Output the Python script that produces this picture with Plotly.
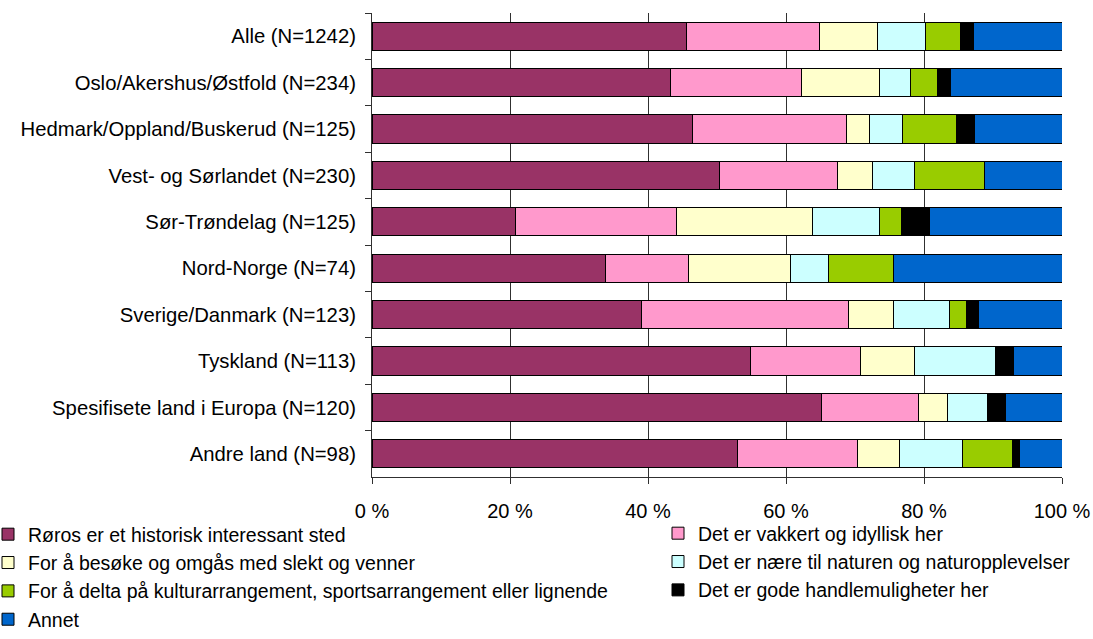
import plotly.graph_objects as go

categories = [
    "Alle (N=1242)",
    "Oslo/Akershus/Østfold (N=234)",
    "Hedmark/Oppland/Buskerud (N=125)",
    "Vest- og Sørlandet (N=230)",
    "Sør-Trøndelag (N=125)",
    "Nord-Norge (N=74)",
    "Sverige/Danmark (N=123)",
    "Tyskland (N=113)",
    "Spesifisete land i Europa (N=120)",
    "Andre land (N=98)",
]

series_names = [
    "Røros er et historisk interessant sted",
    "Det er vakkert og idyllisk her",
    "For å besøke og omgås med slekt og venner",
    "Det er nære til naturen og naturopplevelser",
    "For å delta på kulturarrangement, sportsarrangement eller lignende",
    "Det er gode handlemuligheter her",
    "Annet",
]

historisk = [45.6, 43.2, 46.4, 50.4, 20.8, 33.9, 39.1, 54.9, 65.1, 53.0]
vakkert = [19.3, 19.1, 22.4, 17.1, 23.3, 11.9, 30.0, 15.9, 14.1, 17.4]
slekt = [8.4, 11.2, 3.3, 5.1, 19.8, 14.9, 6.5, 7.8, 4.2, 6.1]
natur = [6.9, 4.6, 4.8, 6.0, 9.7, 5.4, 8.1, 11.7, 5.8, 9.1]
kultur = [5.1, 3.9, 7.8, 10.1, 3.2, 9.5, 2.5, 0.0, 0.0, 7.2]
handel = [1.9, 1.8, 2.6, 0.0, 4.0, 0.0, 1.7, 2.6, 2.6, 1.1]
annet = [12.8, 16.2, 12.7, 11.3, 19.2, 24.4, 12.1, 7.1, 8.2, 6.1]

series_values = [historisk, vakkert, slekt, natur, kultur, handel, annet]
colors = ["#993366", "#FF99CC", "#FFFFCC", "#CCFFFF", "#99CC00", "#000000", "#0066CC"]
# legend column for each series (two-column legend as in the reference)
legend_column = ["legend", "legend2", "legend", "legend2", "legend", "legend2", "legend"]

x_ticks = [0, 20, 40, 60, 80, 100]
x_tick_labels = ["0 %", "20 %", "40 %", "60 %", "80 %", "100 %"]

fig = go.Figure()
for i, (name, vals, col, lg) in enumerate(zip(series_names, series_values, colors, legend_column)):
    fig.add_trace(go.Bar(
        y=categories, x=vals, name=name, orientation="h",
        marker=dict(color=col, line=dict(color="#000000", width=1)),
        legend=lg, legendgroup="g%d" % i,
        hoverinfo="x+y+name",
    ))

fnt = "Liberation Sans, Arial, sans-serif"
W, H = 1093, 639
ML, MR, MT, MB = 372, 31, 13, 162
plot_w = W - ML - MR

legend_common = dict(
    orientation="v",
    xref="paper", yref="container",
    xanchor="left",
    font=dict(family=fnt, size=19.5, color="black"),
    traceorder="normal",
    tracegroupgap=0,
    itemwidth=30,
    bgcolor="rgba(0,0,0,0)",
)

fig.update_layout(
    barmode="stack",
    bargap=0.39,
    width=W, height=H,
    margin=dict(l=ML, r=MR, t=MT, b=MB, autoexpand=False),
    paper_bgcolor="white", plot_bgcolor="white",
    font=dict(family=fnt, size=20, color="black"),
    showlegend=True,
    legend=dict(legend_common, x=(-12 - ML) / plot_w, y=0.0, yanchor="bottom"),
    legend2=dict(legend_common, x=(658 - ML) / plot_w, y=1 - 514 / H, yanchor="top"),
    xaxis=dict(
        range=[0, 100], tickvals=x_ticks, ticktext=x_tick_labels,
        showgrid=True, gridcolor="#303030", gridwidth=1,
        showline=True, linecolor="#303030", linewidth=1, mirror=False,
        ticks="outside", ticklen=6, tickcolor="#303030",
        zeroline=False, ticklabelstandoff=10,
        tickfont=dict(family=fnt, size=20, color="black"),
    ),
    yaxis=dict(
        autorange="reversed", type="category",
        showline=True, linecolor="#303030", linewidth=1,
        ticks="outside", ticklen=6, tickcolor="#303030",
        tickson="boundaries", showgrid=False,
        ticklabelstandoff=11,
        tickfont=dict(family=fnt, size=20.3, color="black"),
    ),
)

fig.write_html("out.html", post_script="document.body.style.margin='0';",
               config={"displayModeBar": False})
